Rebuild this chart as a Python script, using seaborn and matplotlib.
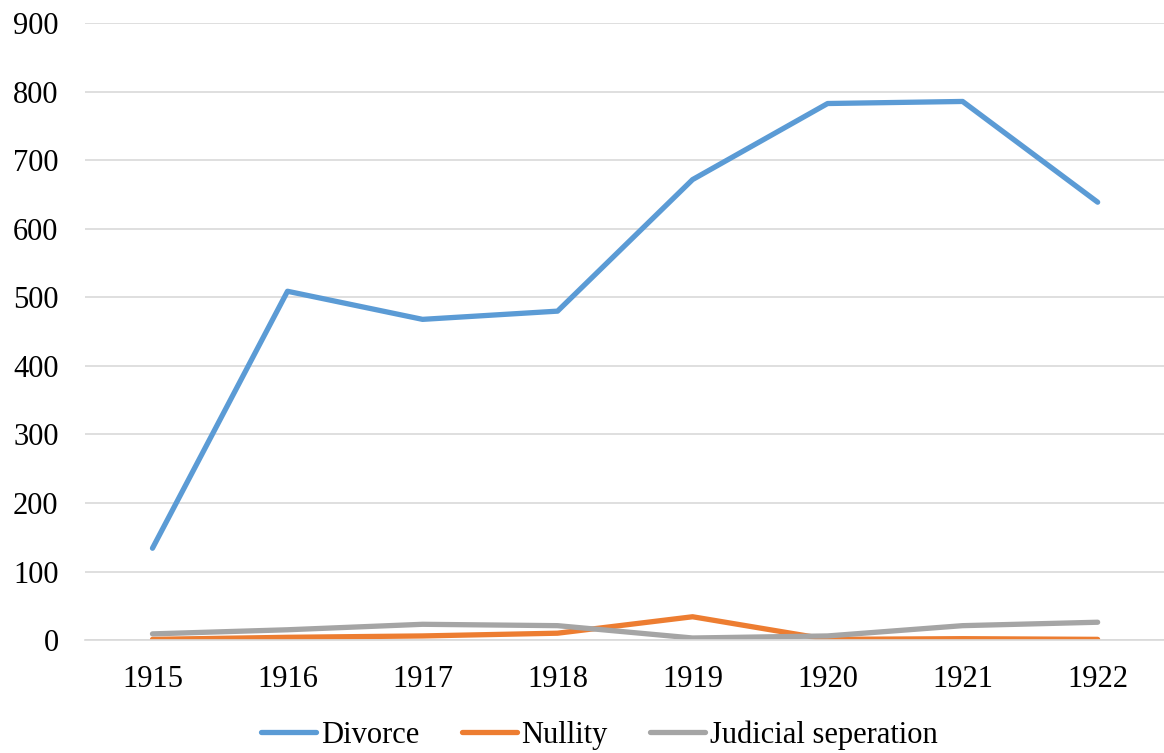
import pandas as pd
import numpy as np
import matplotlib.pyplot as plt
import seaborn as sns

# data
years = ['1915', '1916', '1917', '1918', '1919', '1920', '1921', '1922']
divorce = [134, 509, 468, 480, 672, 783, 786, 639]
nullity = [1, 4, 6, 10, 34, 1, 2, 1]
judicial = [9, 15, 23, 21, 3, 6, 21, 26]
series = ['Divorce', 'Nullity', 'Judicial seperation']
colors = ['#5B9BD5', '#ED7D31', '#A5A5A5']

df = pd.DataFrame({'Year': years * 3,
                   'Count': divorce + nullity + judicial,
                   'Type': np.repeat(series, len(years))})

sns.set_style('white')
plt.rcParams['font.family'] = ['Liberation Serif', 'DejaVu Serif']
plt.rcParams['text.color'] = 'black'
plt.rcParams['xtick.color'] = 'black'
plt.rcParams['ytick.color'] = 'black'

fig = plt.figure(figsize=(11.64, 7.53), dpi=100)
ax = fig.add_axes([0.073, 0.150, 0.928, 0.819])

sns.lineplot(data=df, x='Year', y='Count', hue='Type',
             palette=colors, linewidth=3.8, ax=ax, legend=True,
             solid_capstyle='round')

ax.set_ylim(0, 900)
ax.set_xlim(-0.5, 7.5)
ax.set_yticks(range(0, 901, 100))
ax.yaxis.grid(True, color='#D9D9D9', linewidth=1.2)
ax.set_axisbelow(True)
for s in ['top', 'right', 'left']:
    ax.spines[s].set_visible(False)
ax.spines['bottom'].set_color('#D9D9D9')
ax.spines['bottom'].set_linewidth(1.2)
ax.tick_params(axis='both', length=0, labelsize=22, labelcolor='black')
ax.tick_params(axis='y', pad=19)
ax.tick_params(axis='x', pad=18)
ax.set_xlabel('')
ax.set_ylabel('')

# legend sits right at the bottom edge, like the original
handles, labels = ax.get_legend_handles_labels()
for h in handles:
    h.set_solid_capstyle('round')
ax.legend(handles, labels, loc='lower center', bbox_to_anchor=(0.515, -0.032),
          bbox_transform=fig.transFigure,
          ncol=3, frameon=False, fontsize=22, handlelength=1.8,
          handletextpad=0.15, columnspacing=1.4)

fig.savefig('out.png', dpi=100)
